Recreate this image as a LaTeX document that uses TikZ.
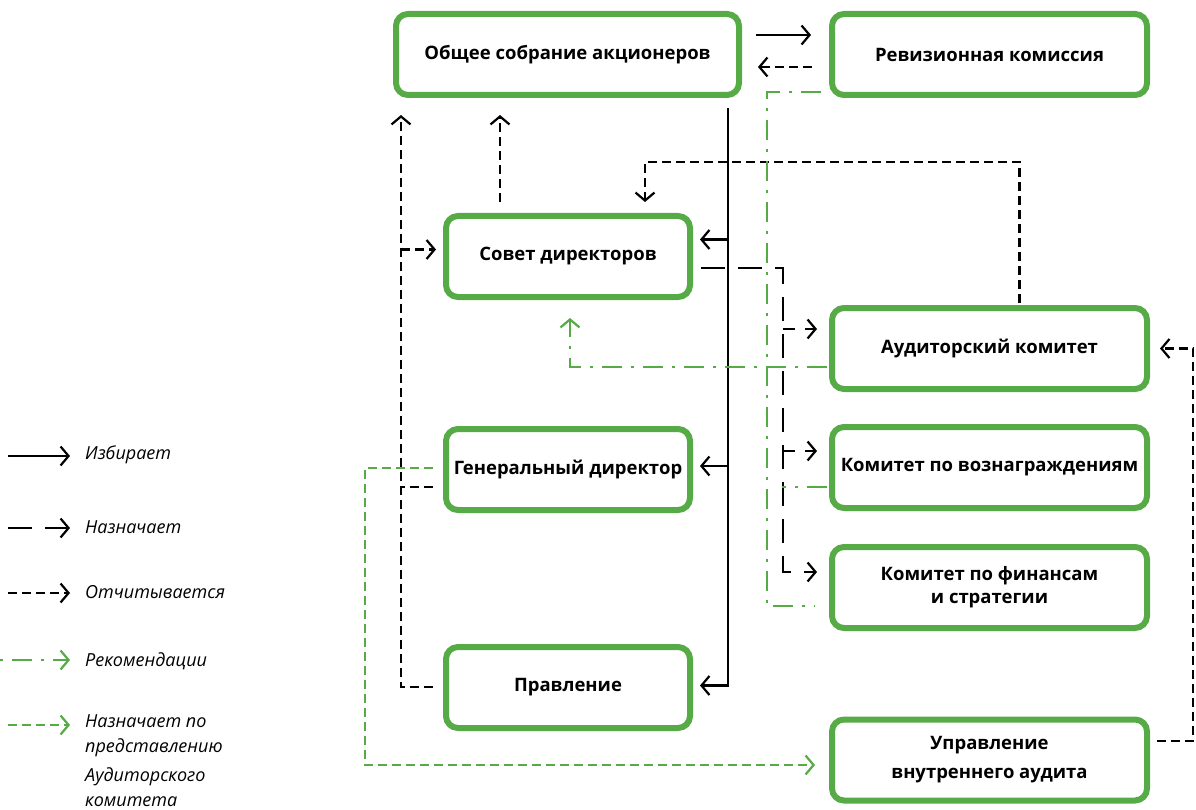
\documentclass[tikz,border=0pt]{standalone}
\usepackage{fontspec}
\setmainfont{Open Sans}
\usetikzlibrary{positioning,calc,arrows.meta}
\definecolor{brand}{RGB}{87,171,70}
\tikzset{
  unit/.style={draw=brand, line width=6pt, rounded corners=12pt, fill=white,
    minimum height=81pt, align=center, inner sep=0pt,
    font=\bfseries\fontsize{18.5}{30}\selectfont},
  leftunit/.style={unit, minimum width=244pt},
  rightunit/.style={unit, minimum width=315pt},
  legtext/.style={anchor=west, inner sep=0pt, align=left,
    font=\itshape\fontsize{18}{25}\selectfont},
  elect/.style={black, line width=2.2pt},
  appoint/.style={black, line width=2.2pt, dash pattern=on 24pt off 13pt},
  report/.style={black, line width=2.2pt, dash pattern=on 9pt off 5pt},
  recom/.style={brand, line width=2.2pt, dash pattern=on 20pt off 9pt on 3pt off 9pt},
  nominate/.style={brand, line width=2.2pt, dash pattern=on 9pt off 5pt},
  >={Straight Barb[length=8pt,width=19pt]}
}
\begin{document}
\begin{tikzpicture}[x=1pt,y=-1pt]
    \useasboundingbox (0,0) rectangle (1196,810);

    % bodies
    \node[unit, minimum width=343pt] (osa) at (567.5,54.5) {Общее собрание акционеров};
    \node[rightunit] (rev) at (989.5,54.5) {Ревизионная комиссия};
    \node[leftunit] (sd) at (568,256.5) {Совет директоров};
    \node[rightunit] (ak) at (989.5,348.5) {Аудиторский комитет};
    \node[leftunit] (gd) at (568,469.5) {Генеральный директор};
    \node[rightunit] (kv) at (989.5,467.5) {Комитет по вознаграждениям};
    \node[rightunit] (kf) at (989.5,587.5) {Комитет по финансам\\[-7pt]и стратегии};
    \node[rightunit] (uva) at (989.5,760) {\raisebox{-5pt}{Управление}\\[-1pt]\raisebox{-5pt}{внутреннего аудита}};
    \node[leftunit] (pr) at (568,687.5) {Правление};

    % elects
    \draw[elect,->] ($(osa.east)+(14,-19.5)$) -- ($(rev.west)+(-18,-19.5)$);
    \coordinate (bus) at ($(osa.south east)+(-14,10)$);
    \draw[elect,->] (bus) |- ($(pr.east)+(7,-2)$);
    \draw[elect,->] ($(sd.east)+(35,-17)$) -- ++(-28,0);
    \draw[elect,->] ($(gd.east)+(35,-3.5)$) -- ++(-28,0);

    % appoints
    \draw[appoint,->] ($(sd.east)+(8,11.5)$) -| ($(kf.west)+(-46,-15.5)$) -- ($(kf.west)+(-12,-15.5)$);
    \draw[appoint,dash pattern=on 12pt off 10pt,->] ($(ak.west)+(-46,-19.5)$) -- ++(34,0);
    \draw[appoint,dash pattern=on 12pt off 10pt,->] ($(kv.west)+(-46,-16.5)$) -- ++(34,0);

    % reports
    \draw[report,->] ($(rev.west)+(-17,12.5)$) -- ($(osa.east)+(16,12.5)$);
    \draw[report,->] ($(sd.north)+(-68,-11)$) -- ($(osa.south)+(-67.5,17)$);
    \draw[report,->] ($(pr.west)+(-10,-0.5)$) -| ($(osa.south west)+(8,17)$);
    \draw[report] ($(gd.west)+(-10,17.5)$) -- ++(-32,0);
    \draw[report,->] ($(sd.west)+(-42,-7)$) -- ++(35,0);
    \draw[report,->] ($(ak.north)+(30,-2)$) |- ($(sd.north)+(77,-51)$) -- ($(sd.north)+(77,-11)$);
    \draw[report,->] ($(uva.east)+(7,-19)$) -| ($(ak.east)+(43,0)$) -- ($(ak.east)+(10,0)$);

    % recommendations
    \draw[recom,->] ($(ak.west)+(-2,18.5)$) -| ($(sd.south)+(2,18)$);
    \draw[recom] ($(rev.south west)+(-8,-6)$) -| ($(kf.west)+(-62,18.5)$) -- ($(kf.west)+(-14,18.5)$);
    \draw[recom] ($(kv.west)+(-2,19.5)$) -- ++(-45,0);

    % nominates
    \draw[nominate,->] ($(gd.west)+(-10,-1.5)$) -| ($(uva.west)+(-464,5)$) -- ($(uva.west)+(-14,5)$);

    % legend
    \node[legtext] (lg1) at (85,455) {Избирает};
    \node[legtext] (lg2) at (85,527) {Назначает};
    \node[legtext] (lg3) at (85,592) {Отчитывается};
    \node[legtext] (lg4) at (85,661) {Рекомендации};
    \node[legtext, anchor=north west] (lg5) at (85,714) {Назначает по\\представлению\\[4pt]Аудиторского\\комитета};
    \draw[elect,->] ($(lg1.west)+(-77,1)$) -- ($(lg1.west)+(-15,1)$);
    \draw[appoint,->] ($(lg2.west)+(-77,1)$) -- ($(lg2.west)+(-15,1)$);
    \draw[report,->] ($(lg3.west)+(-77,1)$) -- ($(lg3.west)+(-15,1)$);
    \draw[recom,dash phase=29pt,->] ($(lg4.west)+(-85,-1)$) -- ($(lg4.west)+(-15,-1)$);
    \draw[nominate,->] ($(lg5.north west)+(-77,11)$) -- ($(lg5.north west)+(-15,11)$);
\end{tikzpicture}
\end{document}
